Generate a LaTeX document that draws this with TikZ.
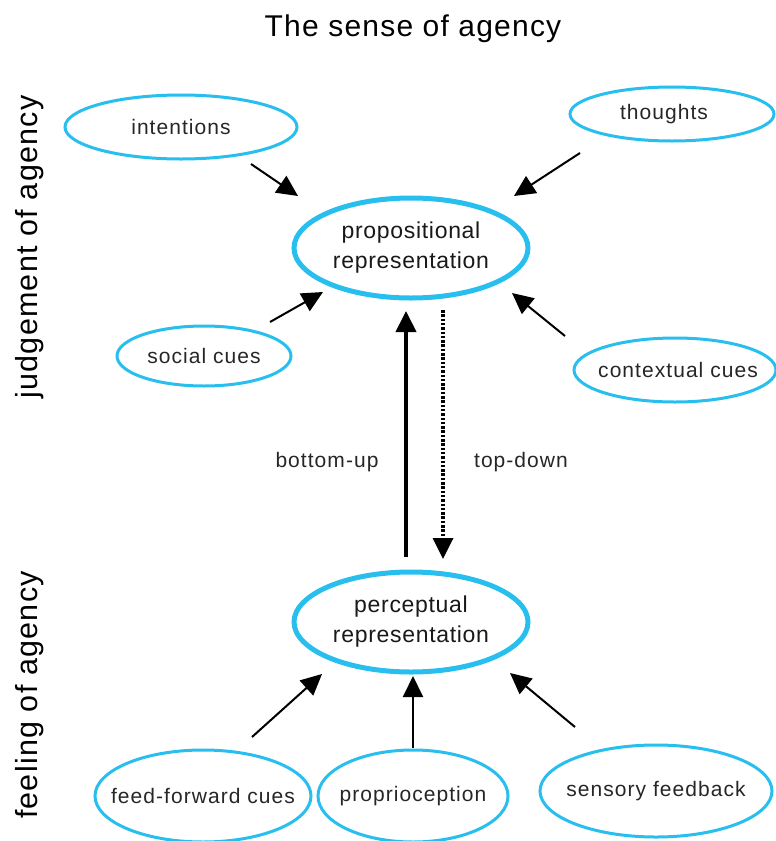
\documentclass[tikz,border=0pt]{standalone}
\usepackage{fontspec}
\setmainfont{Liberation Sans}
\usetikzlibrary{shapes.geometric,arrows.meta}
\definecolor{ecyan}{RGB}{40,190,238}
\newcommand{\smallfnt}{\fontsize{21}{24}\selectfont\addfontfeature{LetterSpace=5}}
\newcommand{\bigfnt}{\fontsize{23}{30}\selectfont\addfontfeature{LetterSpace=3}}
\newcommand{\hugefnt}{\fontsize{30}{34}\selectfont\addfontfeature{LetterSpace=4}}
\newcommand{\zw}[1]{\makebox[0pt]{#1}}
\begin{document}
\begin{tikzpicture}[x=1pt,y=-1pt,
  small/.style={ellipse,draw=ecyan,line width=3pt,inner sep=0pt,font=\smallfnt,text=black!85},
  big/.style={ellipse,draw=ecyan,line width=5pt,inner sep=0pt,minimum width=234pt,minimum height=100pt,align=center,font=\bigfnt,text=black!90},
  tip/.style={-{Triangle[length=21pt,width=20pt]}},
  arr/.style={line width=2pt,tip},
  lbl/.style={font=\smallfnt,text=black!85}]
\useasboundingbox (0,0) rectangle (776,841);
\node[font=\hugefnt] (title) at (413,29) {The sense of agency};
\node[rotate=90,font=\fontsize{30.5}{34}\selectfont\addfontfeature{LetterSpace=4}] (jud) at (30,247) {judgement of agency};
\node[rotate=90,font=\fontsize{30.5}{34}\selectfont\addfontfeature{LetterSpace=4}] (feel) at (30,695) {feeling of agency};

\node[small,minimum width=232pt,minimum height=64pt] (int) at (181,127) {\zw{intentions}};
\node[small,minimum width=204pt,minimum height=54pt] (tho) at (672,114) {\zw{\hspace{-16pt}thoughts}};
\node[small,minimum width=174pt,minimum height=60pt] (soc) at (204,356) {\zw{social cues}};
\node[small,minimum width=202pt,minimum height=64pt] (ctx) at (675,370) {\zw{\hspace{6pt}contextual cues}};
\node[big] (prop) at (411,248) {\zw{propositional}\\\zw{representation}};
\node[big] (perc) at (411,622) {\zw{perceptual}\\\zw{representation}};
\node[small,minimum width=216pt,minimum height=92pt] (ff) at (203,796) {\zw{feed-forward cues}};
\node[small,minimum width=190pt,minimum height=92pt] (pro) at (413,796) {\zw{proprioception}};
\node[small,minimum width=232pt,minimum height=92pt] (sen) at (656,791) {\zw{sensory feedback}};

\coordinate (a1) at (251,164); \coordinate (b1) at (298,196);
\coordinate (a2) at (580,153); \coordinate (b2) at (514,196);
\coordinate (a3) at (270,322); \coordinate (b3) at (323,292);
\coordinate (a4) at (565,336); \coordinate (b4) at (512,293);
\coordinate (a5) at (406,557); \coordinate (b5) at (406,311);
\coordinate (a6) at (443,310); \coordinate (b6) at (443,559);
\coordinate (a7) at (252,737); \coordinate (b7) at (322,674);
\coordinate (a8) at (413,748); \coordinate (b8) at (413,676);
\coordinate (a9) at (575,727); \coordinate (b9) at (510,673);

\draw[arr] (a1) -- (b1);
\draw[arr] (a2) -- (b2);
\draw[arr] (a3) -- (b3);
\draw[arr] (a4) -- (b4);
\draw[line width=4pt,tip] (a5) -- (b5);
\draw[line width=3.5pt,dash pattern=on 2.5pt off 1.8pt,tip] (a6) -- (b6);
\draw[arr] (a7) -- (b7);
\draw[arr] (a8) -- (b8);
\draw[arr] (a9) -- (b9);

\node[lbl] (bu) at (327,462) {bottom-up};
\node[lbl] (td) at (521,462) {top-down};
\end{tikzpicture}
\end{document}
